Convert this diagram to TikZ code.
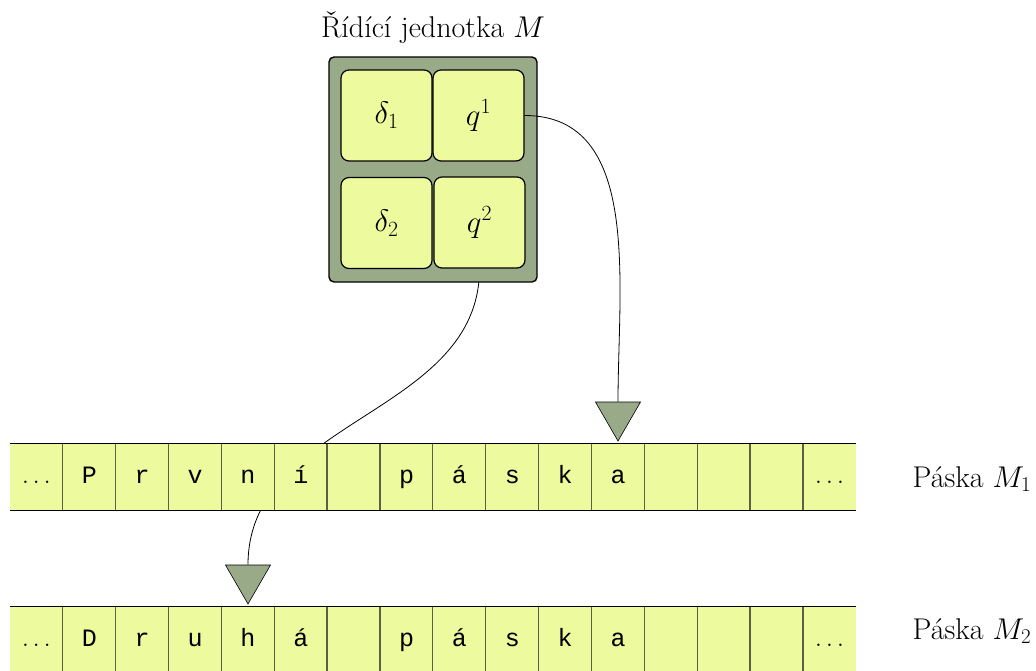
\documentclass[tikz,border=0pt]{standalone}
\usepackage{fix-cm}
\usepackage{fontspec}
\setmonofont{Liberation Mono}
\usetikzlibrary{shapes.geometric,backgrounds}
\definecolor{unitgreen}{HTML}{99AA88}
\definecolor{tapeyellow}{HTML}{EEFA9E}
\definecolor{sepcol}{HTML}{5C6044}
\tikzset{
  unitbox/.style={draw=black, line width=1.4pt, fill=unitgreen, rounded corners=5pt, minimum width=208pt, minimum height=225pt, inner sep=0pt},
  regbox/.style={draw=black, line width=1.2pt, fill=tapeyellow, rounded corners=8pt, minimum width=91pt, minimum height=91pt, inner sep=0pt, font=\fontsize{31}{35}\selectfont},
  cell/.style={fill=tapeyellow, minimum width=52.875pt, minimum height=66pt, inner sep=0pt, text height=16pt, text depth=4pt, font=\fontsize{25}{29}\selectfont\ttfamily},
  tapeline/.style={draw=black, line width=1.3pt},
  sepline/.style={draw=sepcol, line width=1.3pt},
  headtri/.style={regular polygon, regular polygon sides=3, shape border rotate=180, minimum size=52pt, inner sep=0pt, fill=unitgreen, draw=black, line width=0.6pt},
  conn/.style={draw=black, line width=0.8pt},
  lbl/.style={font=\fontsize{30}{34}\selectfont, anchor=base, inner sep=0pt}
}
\begin{document}
\begin{tikzpicture}[x=1pt,y=-1pt]
\useasboundingbox (0,0) rectangle (1036,670);
% control unit
\node[lbl] (title) at (433,37) {Řídící jednotka $M$};
\node[unitbox] (unit) at (433,169.5) {};
\node[regbox] (d1) at (386.5,115.5) {$\delta_1$};
\node[regbox] (q1) at (478.5,115.5) {$q^1$};
\node[regbox] (d2) at (386.5,223) {$\delta_2$};
\node[regbox] (q2) at (479.5,222.5) {$q^2$};
% tape 1
\foreach \t [count=\i from 0] in {{$\ldots$},P,r,v,n,í,{},p,á,s,k,a,{},{},{},{$\ldots$}}
  \node[cell] (a\i) at ({10+52.875*(\i+0.5)},477) {\t};
\foreach \i in {1,...,15}
  \draw[sepline] (a\i.north west) -- (a\i.south west);
\draw[tapeline] (a0.north west) -- (a15.north east);
\draw[tapeline] (a0.south west) -- (a15.south east);
% tape 2
\foreach \t [count=\i from 0] in {{$\ldots$},D,r,u,h,á,{},p,á,s,k,a,{},{},{},{$\ldots$}}
  \node[cell] (b\i) at ({10+52.875*(\i+0.5)},640) {\t};
\foreach \i in {1,...,15}
  \draw[sepline] (b\i.north west) -- (b\i.south west);
\draw[tapeline] (b0.north west) -- (b15.north east);
\draw[tapeline] (b0.south west) -- (b15.south east);
% labels
\node[lbl] (l1) at (972,487) {Páska $M_1$};
\node[lbl] (l2) at (972,639) {Páska $M_2$};
% heads
\node[headtri] (h1) at (618,415) {};
\node[headtri] (h2) at (248,578) {};
% connectors
\draw[conn] (q1.east) to[out=0,in=90] (h1.north);
\begin{scope}[on background layer]
\draw[conn] (q2.south) to[out=-90,in=90] (h2.north);
\end{scope}
\end{tikzpicture}
\end{document}
